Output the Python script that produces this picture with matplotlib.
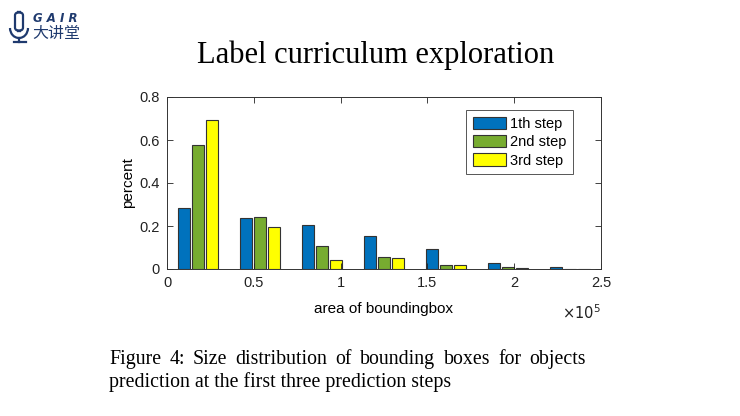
import numpy as np
import matplotlib.pyplot as plt
from matplotlib.ticker import FuncFormatter
from matplotlib.patches import FancyBboxPatch, Arc
from matplotlib.lines import Line2D

# --------------------------------------------------------------------------------
# data
# --------------------------------------------------------------------------------

bin_centers = [0.179e5, 0.536e5, 0.893e5, 1.250e5, 1.607e5, 1.964e5, 2.321e5]
step1 = [0.282, 0.235, 0.205, 0.152, 0.094, 0.028, 0.008]
step2 = [0.578, 0.240, 0.108, 0.054, 0.018, 0.008, 0.002]
step3 = [0.691, 0.197, 0.043, 0.049, 0.018, 0.005, 0.001]
series_labels = ["1th step", "2nd step", "3rd step"]
colors = ["#0072BD", "#77AC30", "#FFFF00"]

caption_1 = "Figure 4: Size distribution of bounding boxes for objects"
caption_2 = "prediction at the first three prediction steps"

# --------------------------------------------------------------------------------

SANS = "Liberation Sans"
SERIF = "Liberation Serif"
W, H = 740, 416

fig = plt.figure(figsize = (7.4, 4.16), dpi = 100)
ax = fig.add_axes([167 / W, 1 - 269 / H, 434 / W, 172 / H])

spacing = 2.5e5 / 7
offset = spacing * 0.222
width = offset * 0.85
for i, (vals, lab, col) in enumerate(zip([step1, step2, step3], series_labels, colors)):
    x = np.array(bin_centers) + (i - 1) * offset
    ax.bar(x, vals, width = width, color = col, edgecolor = "#333333", linewidth = 0.8, label = lab)

ax.set_xlim(0, 2.5e5)
ax.set_ylim(0, 0.8)
ax.set_xticks([0, 0.5e5, 1e5, 1.5e5, 2e5, 2.5e5])
ax.set_yticks([0, 0.2, 0.4, 0.6, 0.8])
ax.xaxis.set_major_formatter(FuncFormatter(lambda v, p: f"{v / 1e5:g}"))
ax.yaxis.set_major_formatter(FuncFormatter(lambda v, p: f"{v:g}"))
ax.tick_params(direction = "in", top = True, right = True, length = 4, width = 0.6,
               labelsize = 10.5, colors = "#222222", pad = 5)
for lbl in ax.get_xticklabels() + ax.get_yticklabels():
    lbl.set_fontfamily(SANS)
for s in ax.spines.values():
    s.set_linewidth(0.7)
    s.set_color("#333333")

ax.set_xlabel("area of boundingbox", fontsize = 11, family = SANS, labelpad = 9)
ax.set_ylabel("percent", fontsize = 11, family = SANS, labelpad = 3)
ax.text(1.0, -0.2, r"$\times10^{5}$", transform = ax.transAxes, ha = "right", va = "top",
        fontsize = 10.5, family = SANS, color = "#222222")

leg = ax.legend(loc = "upper right", bbox_to_anchor = (573 / W, 1 - 110 / H), bbox_transform = fig.transFigure,
                borderaxespad = 0, prop = {"family": SANS, "size": 10.5},
                fancybox = False, edgecolor = "#555555", framealpha = 1,
                handlelength = 2.3, handleheight = 0.9, borderpad = 0.45, labelspacing = 0.3,
                handletextpad = 0.25)
leg.get_frame().set_linewidth(0.7)

# title
fig.text(0.507, 1 - 55 / H, "Label curriculum exploration", ha = "center", va = "center",
         family = SERIF, fontsize = 22)

# caption, first line justified between x=110 and x=587
renderer = fig.canvas.get_renderer()
words = caption_1.split()
arts = [fig.text(0, 1 - 364 / H, w, ha = "left", va = "baseline", family = SERIF, fontsize = 14.3) for w in words]
widths = [a.get_window_extent(renderer).width for a in arts]
gap = (587 - 110 - sum(widths)) / (len(words) - 1)
xpos = 109
for a, w in zip(arts, widths):
    a.set_x(xpos / W)
    xpos += w + gap
fig.text(109 / W, 1 - 387 / H, caption_2, ha = "left", va = "baseline", family = SERIF, fontsize = 14.3)

# logo
logo_col = "#1f3a6e"
fig.text(33 / W, 1 - 18 / H, "G A I R", ha = "left", va = "center", fontsize = 8.5, style = "italic",
         weight = "bold", color = logo_col, family = "DejaVu Sans")
fig.text(32 / W, 1 - 33 / H, "大讲堂", ha = "left", va = "center", fontsize = 11.5, style = "italic",
         color = logo_col, family = ["Noto Sans CJK SC", "DejaVu Sans"])
fig.patches.append(FancyBboxPatch((15 / W, 1 - 31 / H), 8 / W, 19 / H,
                                  boxstyle = "round,pad=0,rounding_size=0.008", transform = fig.transFigure,
                                  facecolor = "white", edgecolor = logo_col, linewidth = 1.6))
fig.patches.append(Arc((19 / W, 1 - 28 / H), 18 / W, 20 / H, theta1 = 180, theta2 = 360,
                       transform = fig.transFigure, color = logo_col, linewidth = 1.6))
fig.lines.append(Line2D([19 / W, 19 / W], [1 - 38 / H, 1 - 42 / H], transform = fig.transFigure,
                        color = logo_col, linewidth = 1.6))
fig.lines.append(Line2D([14 / W, 26 / W], [1 - 42 / H, 1 - 42 / H], transform = fig.transFigure,
                        color = logo_col, linewidth = 1.6))

fig.savefig("out.png", dpi = 100)
plt.close()
